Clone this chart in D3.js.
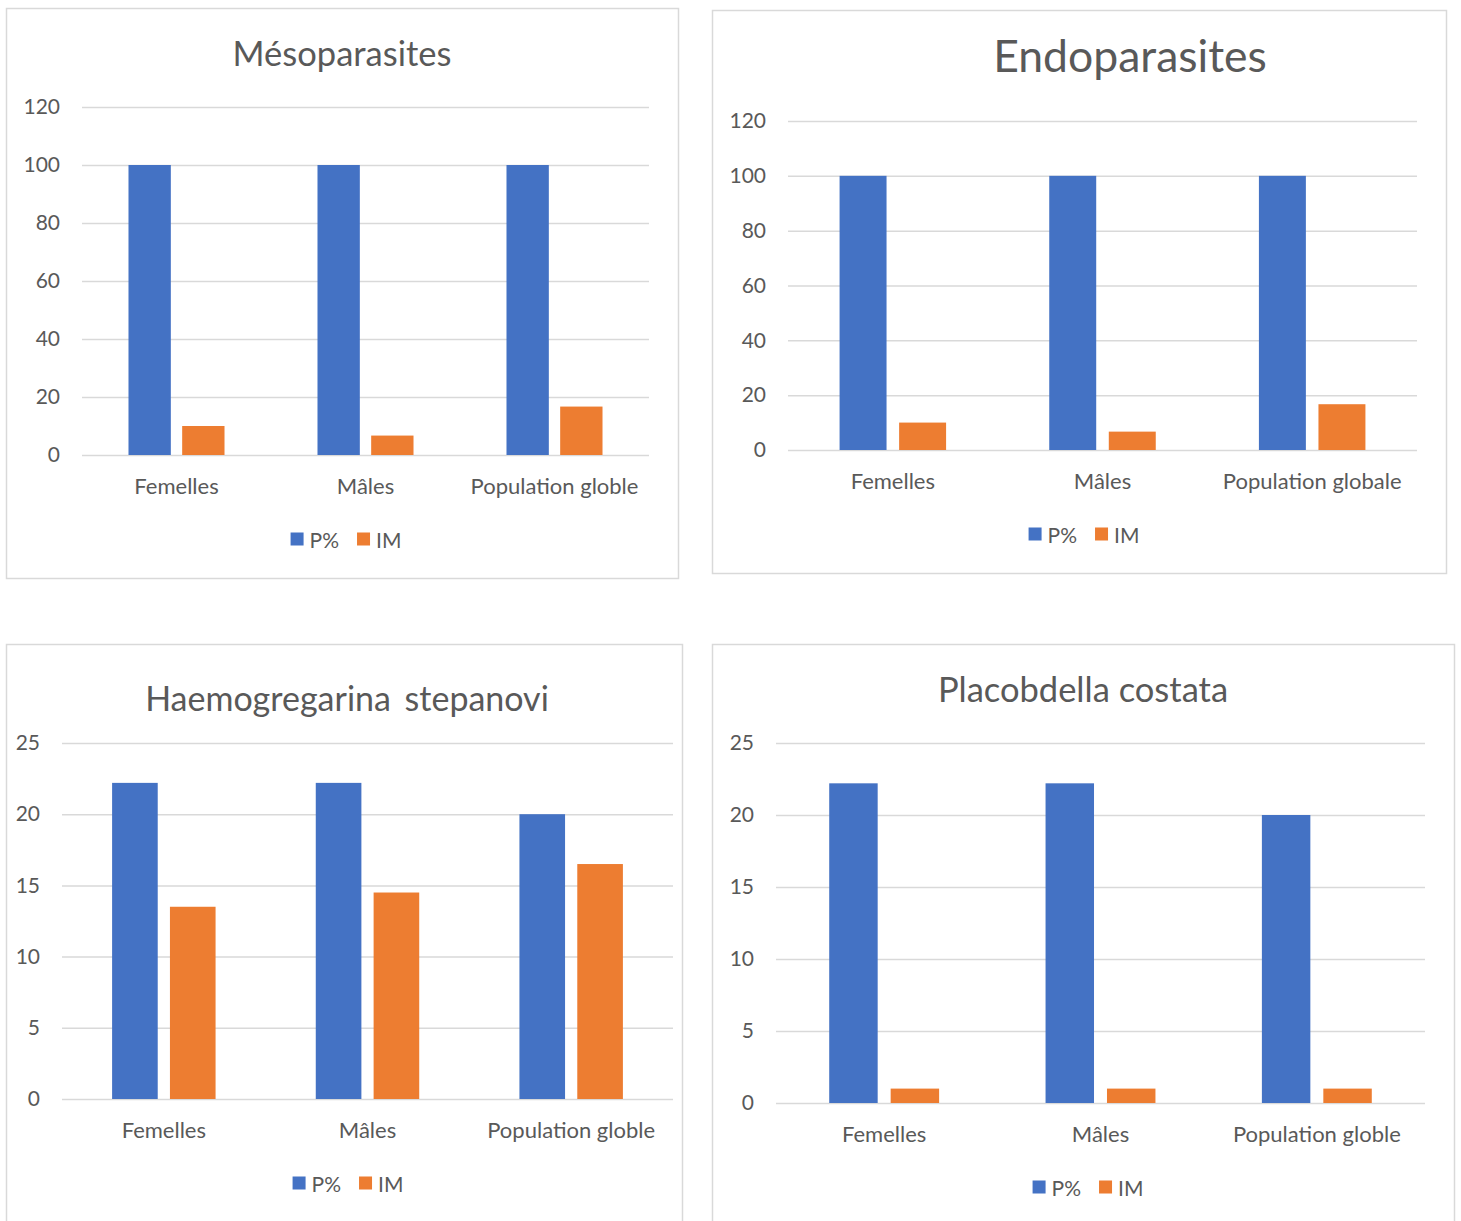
<!DOCTYPE html>
<html>
<head>
<meta charset="utf-8">
<script src="https://cdn.jsdelivr.net/npm/d3@7"></script>
<style>
  html, body { margin: 0; padding: 0; background: #fff; }
  svg { display: block; font-family: Lato, "Open Sans", sans-serif; }
</style>
</head>
<body>
<svg id="chart" width="1461" height="1221"></svg>
<script>
// Series names and colours
const seriesNames = ["P%", "IM"];
const seriesColors = ["#4472C4", "#ED7D31"];

// Categories per chart
const categoriesMeso = ["Femelles", "Mâles", "Population globle"];
const categoriesEndo = ["Femelles", "Mâles", "Population globale"];
const categoriesHaemo = ["Femelles", "Mâles", "Population globle"];
const categoriesPlaco = ["Femelles", "Mâles", "Population globle"];

// Values: prevalence (P%) and mean intensity (IM)
const mesoP = [100, 100, 100];
const mesoIM = [10, 6.7, 16.7];
const endoP = [100, 100, 100];
const endoIM = [10, 6.7, 16.7];
const haemoP = [22.2, 22.2, 20];
const haemoIM = [13.5, 14.5, 16.5];
const placoP = [22.2, 22.2, 20];
const placoIM = [1, 1, 1];

// Y axis ticks
const ticks120 = [0, 20, 40, 60, 80, 100, 120];
const ticks25 = [0, 5, 10, 15, 20, 25];

const svg = d3.select("#chart");
const textColor = "#595959";
const gridColor = "#D9D9D9";
const fontFamily = "Lato, 'Open Sans', sans-serif";

function drawPanel(cfg) {
  const g = svg.append("g");

  // chart frame
  g.append("rect")
    .attr("x", cfg.frame[0] + 0.5).attr("y", cfg.frame[1] + 0.5)
    .attr("width", cfg.frame[2] - cfg.frame[0]).attr("height", cfg.frame[3] - cfg.frame[1])
    .attr("fill", "#fff").attr("stroke", gridColor).attr("stroke-width", 1.5);

  // title
  g.append("text")
    .attr("x", cfg.titleX).attr("y", cfg.titleY)
    .attr("text-anchor", "middle").attr("dominant-baseline", "central")
    .attr("font-size", cfg.titleSize).attr("fill", textColor)
    .style("word-spacing", cfg.wordSpacing || "0px")
    .text(cfg.title);

  const y = d3.scaleLinear().domain([0, d3.max(cfg.ticks)]).range([cfg.y0, cfg.yTop]);
  const x = d3.scaleBand().domain(cfg.categories).range([cfg.xL, cfg.xR]).padding(0);

  // gridlines + value labels
  const yAxis = d3.axisLeft(y).tickValues(cfg.ticks)
    .tickSize(-(cfg.xR - cfg.xL)).tickPadding(22).tickFormat(d3.format("d"));
  const ya = g.append("g").attr("transform", `translate(${cfg.xL},0)`).call(yAxis);
  ya.select(".domain").remove();
  ya.selectAll(".tick line").attr("stroke", gridColor).attr("stroke-width", 1.5);
  ya.selectAll(".tick text").attr("fill", textColor).attr("font-size", 21)
    .attr("font-family", fontFamily);

  // category labels
  const xAxis = d3.axisBottom(x).tickSize(0).tickPadding(23);
  const xa = g.append("g").attr("transform", `translate(0,${cfg.y0})`).call(xAxis);
  xa.select(".domain").remove();
  xa.selectAll(".tick text").attr("fill", textColor).attr("font-size", 22)
    .attr("font-family", fontFamily);

  // bars: two series side by side, centred in each category band
  const bw = x.bandwidth();
  const barW = bw * 0.224;
  const gap = bw * 0.06;
  const series = [cfg.p, cfg.im];
  series.forEach((vals, si) => {
    g.append("g").selectAll("rect")
      .data(cfg.categories.map((c, i) => ({ c, v: vals[i] })))
      .join("rect")
      .attr("x", d => x(d.c) + bw / 2 + (si === 0 ? -barW - gap / 2 : gap / 2))
      .attr("y", d => y(d.v))
      .attr("width", barW)
      .attr("height", d => y(0) - y(d.v))
      .attr("fill", seriesColors[si]);
  });

  // legend, centred under the plot
  const lg = g.append("g");
  let cx = 0;
  seriesNames.forEach((name, i) => {
    const it = lg.append("g").attr("transform", `translate(${cx},0)`);
    it.append("rect").attr("x", 0).attr("y", -6.5).attr("width", 13).attr("height", 13)
      .attr("fill", seriesColors[i]);
    const t = it.append("text").attr("x", 19).attr("y", 0).attr("dominant-baseline", "central")
      .attr("font-size", 21).attr("fill", textColor).text(name);
    const w = t.node().getComputedTextLength();
    cx += 19 + w + 18;
  });
  const totalW = cx - 18;
  lg.attr("transform", `translate(${cfg.legendX - totalW / 2},${cfg.y0 + 84})`);
}

drawPanel({
  frame: [6, 8, 678, 578], title: "Mésoparasites", titleX: 342, titleY: 52, titleSize: 34.5,
  categories: categoriesMeso, p: mesoP, im: mesoIM, ticks: ticks120,
  xL: 82, xR: 649, y0: 455, yTop: 107, legendX: 346
});
drawPanel({
  frame: [712, 10, 1446, 573], title: "Endoparasites", titleX: 1130, titleY: 54, titleSize: 44.5,
  categories: categoriesEndo, p: endoP, im: endoIM, ticks: ticks120,
  xL: 788, xR: 1417, y0: 450, yTop: 121, legendX: 1084
});
drawPanel({
  frame: [6, 644, 682, 1240], title: "Haemogregarina stepanovi", titleX: 347, titleY: 697, titleSize: 34,
  wordSpacing: "5px",
  categories: categoriesHaemo, p: haemoP, im: haemoIM, ticks: ticks25,
  xL: 62, xR: 673, y0: 1099, yTop: 743, legendX: 348
});
drawPanel({
  frame: [712, 644, 1454, 1240], title: "Placobdella costata", titleX: 1083, titleY: 688, titleSize: 34.5,
  categories: categoriesPlaco, p: placoP, im: placoIM, ticks: ticks25,
  xL: 776, xR: 1425, y0: 1103, yTop: 743, legendX: 1088
});
</script>
</body>
</html>
